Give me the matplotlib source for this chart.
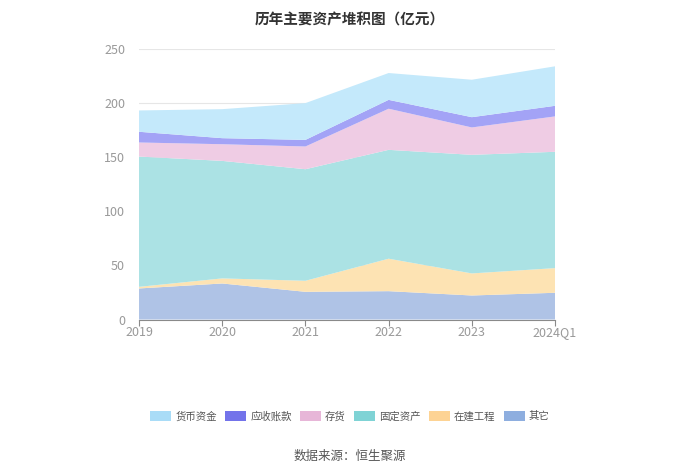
import matplotlib.pyplot as plt
from matplotlib.patches import Patch

plt.rcParams['font.family'] = ['Noto Sans CJK SC', 'DejaVu Sans']

years = ['2019', '2020', '2021', '2022', '2023', '2024Q1']

# values in 亿元, bottom to top of the stack
other = [28.7, 33.3, 25.6, 26.2, 22.2, 24.7]          # 其它
construction = [1.5, 4.7, 10.2, 30.0, 20.4, 22.8]     # 在建工程
fixed_assets = [120.4, 108.6, 103.1, 100.6, 109.6, 107.5]  # 固定资产
inventory = [13.0, 15.4, 21.0, 38.0, 25.3, 32.7]      # 存货
receivables = [9.9, 5.6, 6.1, 8.2, 9.5, 9.8]          # 应收账款
cash = [19.7, 26.8, 34.0, 24.8, 34.6, 36.5]           # 货币资金

series = [other, construction, fixed_assets, inventory, receivables, cash]
labels = ['其它', '在建工程', '固定资产', '存货', '应收账款', '货币资金']
area_colors = ['#afc3e6', '#fde3b3', '#abe2e4', '#efcce4', '#a3a3f6', '#c4e9fb']
legend_colors = ['#8eaedf', '#fdd394', '#7fd3d5', '#e7b6d8', '#7373ea', '#a9dcf7']

fig = plt.figure(figsize=(7, 4.73), dpi=100)
ax = fig.add_axes([0.1986, 0.3245, 0.5943, 0.5719])

x = list(range(len(years)))
ax.stackplot(x, *series, colors=area_colors, linewidth=0, zorder=2)

ax.set_xlim(0, len(years) - 1)
ax.set_ylim(0, 250)
ax.set_yticks([0, 50, 100, 150, 200, 250])
ax.set_xticks(x)
ax.set_xticklabels(years)
ax.grid(axis='y', color='#e6e6e6', linewidth=0.8, zorder=0)
ax.set_axisbelow(True)

for s in ['top', 'right', 'left']:
    ax.spines[s].set_visible(False)
ax.spines['bottom'].set_color('#8a8a8a')
ax.spines['bottom'].set_zorder(3)
ax.tick_params(axis='y', length=0, colors='#999999', labelsize=9, pad=10)
ax.tick_params(axis='x', length=4, color='#8a8a8a', colors='#999999', labelsize=9, pad=1)

fig.text(0.5, 0.975, '历年主要资产堆积图（亿元）', ha='center', va='top',
         fontsize=10.5, fontweight='bold', color='#333333')

handles = [Patch(facecolor=legend_colors[i], edgecolor='none', label=labels[i])
           for i in [5, 4, 3, 2, 1, 0]]
leg = fig.legend(handles=handles, loc='center', bbox_to_anchor=(0.5, 0.12),
                 ncol=6, frameon=False, fontsize=7.5, handlelength=2.0,
                 handleheight=1.0, columnspacing=0.8, handletextpad=0.4)
for t in leg.get_texts():
    t.set_color('#555555')

fig.text(0.5, 0.035, '数据来源：恒生聚源', ha='center', va='center',
         fontsize=9, color='#555555')

fig.savefig('out.png', dpi=100)
